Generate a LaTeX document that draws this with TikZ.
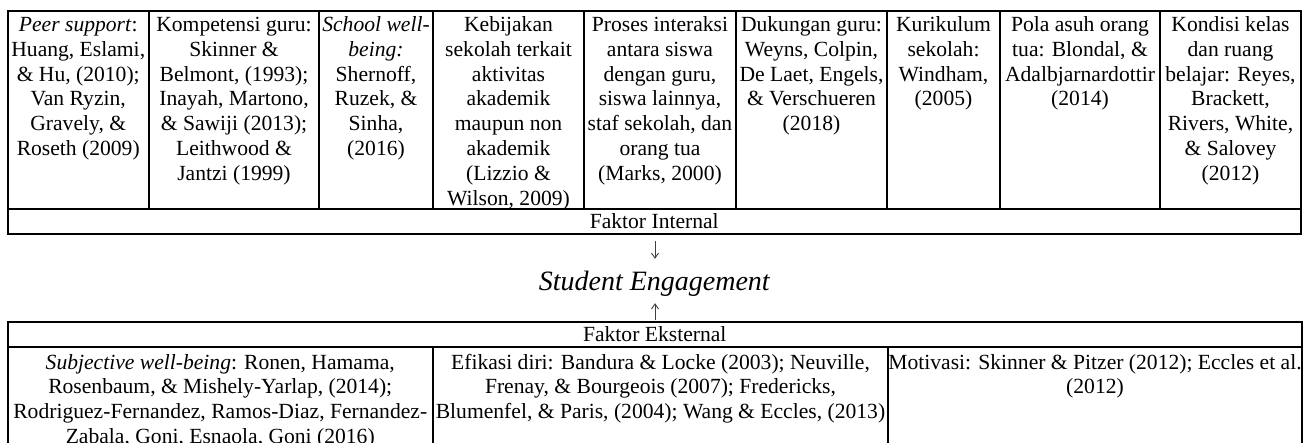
\documentclass[tikz,border=0pt]{standalone}
\usepackage{fontspec}
\setmainfont{Liberation Serif}
\usetikzlibrary{arrows.meta}
\newcommand\cellfont{\fontsize{21.6}{24.8}\selectfont}
\newcommand\cellstrut{\rule{0pt}{19.3pt}}
\begin{document}
\begin{tikzpicture}[x=1pt,y=-1pt,
  grid/.style={line width=2pt},
  cell/.style={anchor=north, inner sep=0pt, align=center, font=\cellfont},
  rowlab/.style={inner sep=0pt, font=\cellfont, minimum height=25pt},
  arr/.style={line width=0.9pt, draw=black!75, -{Straight Barb[length=5pt,width=7pt]}}]
\useasboundingbox (0,0) rectangle (1303,442);
% top table grid
\draw[grid] (7.5,11) rectangle (1301,234);
\draw[grid] (7.5,209) -- (1301,209);
\foreach \x in {149,319,433,584,736,887,1000,1160}
  \draw[grid] (\x,11) -- (\x,209);
% top cells
\node[cell] (c1) at (78.25,12) {\cellstrut\textit{Peer support}:\\Huang, Eslami,\\\& Hu, (2010);\\Van Ryzin,\\Gravely, \&\\Roseth (2009)};
\node[cell] (c2) at (234,12) {\cellstrut Kompetensi guru:\\Skinner \&\\Belmont, (1993);\\Inayah, Martono,\\\& Sawiji (2013);\\Leithwood \&\\Jantzi (1999)};
\node[cell] (c3) at (376,12) {\cellstrut\textit{School well-}\\\textit{being:}\\Shernoff,\\Ruzek, \&\\Sinha,\\(2016)};
\node[cell] (c4) at (508.5,12) {\cellstrut Kebijakan\\sekolah terkait\\aktivitas\\akademik\\maupun non\\akademik\\(Lizzio \&\\Wilson, 2009)};
\node[cell] (c5) at (660,12) {\cellstrut Proses interaksi\\antara siswa\\dengan guru,\\siswa lainnya,\\staf sekolah, dan\\orang tua\\(Marks, 2000)};
\node[cell] (c6) at (811.5,12) {\cellstrut Dukungan guru:\\Weyns, Colpin,\\De Laet, Engels,\\\& Verschueren\\(2018)};
\node[cell] (c7) at (943.5,12) {\cellstrut Kurikulum\\sekolah:\\Windham,\\(2005)};
\node[cell] (c8) at (1080,12) {\cellstrut Pola asuh orang\\tua: Blondal, \&\\Adalbjarnardottir\\(2014)};
\node[cell] (c9) at (1230.5,12) {\cellstrut Kondisi kelas\\dan ruang\\belajar: Reyes,\\Brackett,\\Rivers, White,\\\& Salovey\\(2012)};
\node[rowlab] (fi) at (654.25,221.5) {Faktor Internal};
% centre
\node[inner sep=0pt, anchor=base, font=\fontsize{28}{32}\selectfont\itshape,
      text height=31pt, text depth=13pt] (se) at (654.25,290) {Student Engagement};
\coordinate (fitop) at (655,234);
\coordinate (fetop) at (655,322);
\draw[arr, shorten <=7pt] (fitop) -- (se.north -| fitop);
\draw[arr, shorten <=2pt] (fetop) -- (se.south -| fetop);
% bottom table grid
\draw[grid] (7.5,460) -- (7.5,322) -- (1302,322) -- (1302,460);
\draw[grid] (7.5,347) -- (1302,347);
\foreach \x in {433,888}
  \draw[grid] (\x,347) -- (\x,460);
\node[rowlab] (fe) at (654.75,334.5) {Faktor Eksternal};
\node[cell] (b1) at (220.25,349.5) {\cellstrut\textit{Subjective well-being}: Ronen, Hamama,\\Rosenbaum, \& Mishely-Yarlap, (2014);\\Rodriguez-Fernandez, Ramos-Diaz, Fernandez-\\Zabala, Goni, Esnaola, Goni (2016)};
\node[cell] (b2) at (660.5,349.5) {\cellstrut Efikasi diri: Bandura \& Locke (2003); Neuville,\\Frenay, \& Bourgeois (2007); Fredericks,\\Blumenfel, \& Paris, (2004); Wang \& Eccles, (2013)};
\node[cell] (b3) at (1095,349.5) {\cellstrut Motivasi: Skinner \& Pitzer (2012); Eccles et al.\\(2012)};
\end{tikzpicture}
\end{document}
